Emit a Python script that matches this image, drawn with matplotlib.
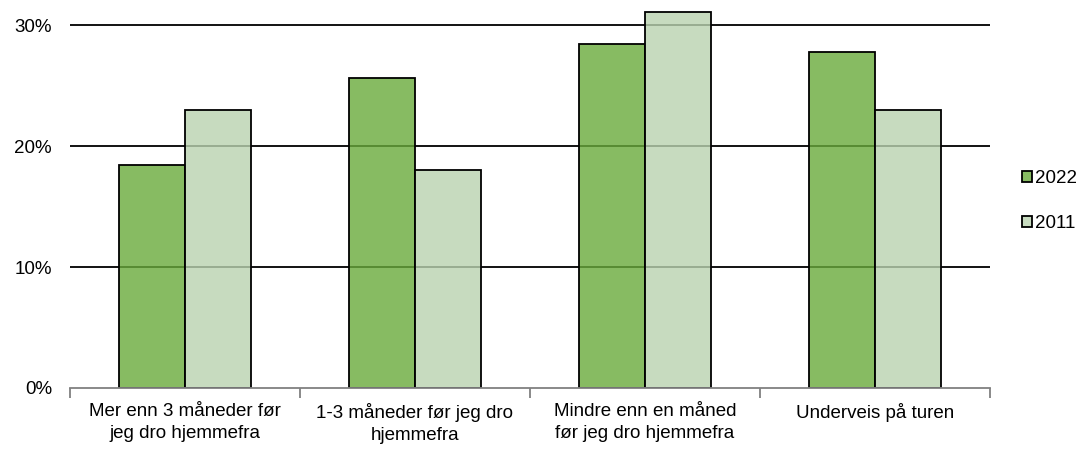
import matplotlib
matplotlib.use("Agg")
import matplotlib.pyplot as plt
import numpy as np
from matplotlib.patches import Patch
from matplotlib.ticker import FuncFormatter, FixedLocator

plt.rcParams['font.family'] = ['Liberation Sans', 'DejaVu Sans']

categories = ["Mer enn 3 måneder før\njeg dro hjemmefra",
              "1-3 måneder før jeg dro\nhjemmefra",
              "Mindre enn en måned\nfør jeg dro hjemmefra",
              "Underveis på turen"]
series_names = ["2022", "2011"]
values_2022 = [18.4, 25.6, 28.4, 27.8]
values_2011 = [23.0, 18.0, 31.1, 23.0]
yticks = [0, 10, 20, 30]

fig = plt.figure(figsize=(10.85, 4.5), dpi=100)
ax = fig.add_axes([70/1085, 1-388/450, 920/1085, 388/450 - 0.002])

x = np.arange(len(categories))
w = 0.285
alpha = 0.8
c22 = (105/255, 170/255, 59/255, alpha)
c11 = (186/255, 211/255, 176/255, alpha)
leg22 = (135/255, 187/255, 98/255)
leg11 = (200/255, 220/255, 192/255)

ax.bar(x - w/2, values_2022, w, facecolor=c22, edgecolor='black', linewidth=1.3, zorder=3)
ax.bar(x + w/2, values_2011, w, facecolor=c11, edgecolor='black', linewidth=1.3, zorder=3)

ax.set_xlim(-0.5, len(categories) - 0.5)
ax.set_ylim(0, 32)
ax.set_yticks(yticks)
ax.yaxis.set_major_formatter(FuncFormatter(lambda v, p: f"{int(v)}%"))
for yv in yticks[1:]:
    ax.axhline(yv, color='black', linewidth=1.3, zorder=1)

ax.xaxis.set_major_locator(FixedLocator(np.arange(len(categories) + 1) - 0.5))
ax.xaxis.set_minor_locator(FixedLocator(x))
ax.set_xticklabels([''] * (len(categories) + 1))
ax.set_xticklabels(categories, minor=True)
ax.tick_params(axis='x', which='major', length=7, color='#808080', width=1.3)
ax.tick_params(axis='x', which='minor', length=0, pad=11, labelsize=13.5)
ax.tick_params(axis='y', length=0, labelsize=13.5, pad=13)
for lbl in ax.get_xticklabels(minor=True):
    lbl.set_linespacing(1.35)

for s in ['top', 'right', 'left']:
    ax.spines[s].set_visible(False)
ax.spines['bottom'].set_color('#808080')
ax.spines['bottom'].set_linewidth(1.3)
ax.spines['bottom'].set_zorder(4)

handles = [Patch(facecolor=leg22, edgecolor='black', linewidth=1.3),
           Patch(facecolor=leg11, edgecolor='black', linewidth=1.3)]
fig.legend(handles, series_names, loc='center left', bbox_to_anchor=(1022/1085, 1-201/450),
           frameon=False, fontsize=13.5, handlelength=0.55, handleheight=0.55,
           handletextpad=0.15, labelspacing=1.5, borderpad=0, borderaxespad=0)

fig.savefig("out.png", dpi=100)
